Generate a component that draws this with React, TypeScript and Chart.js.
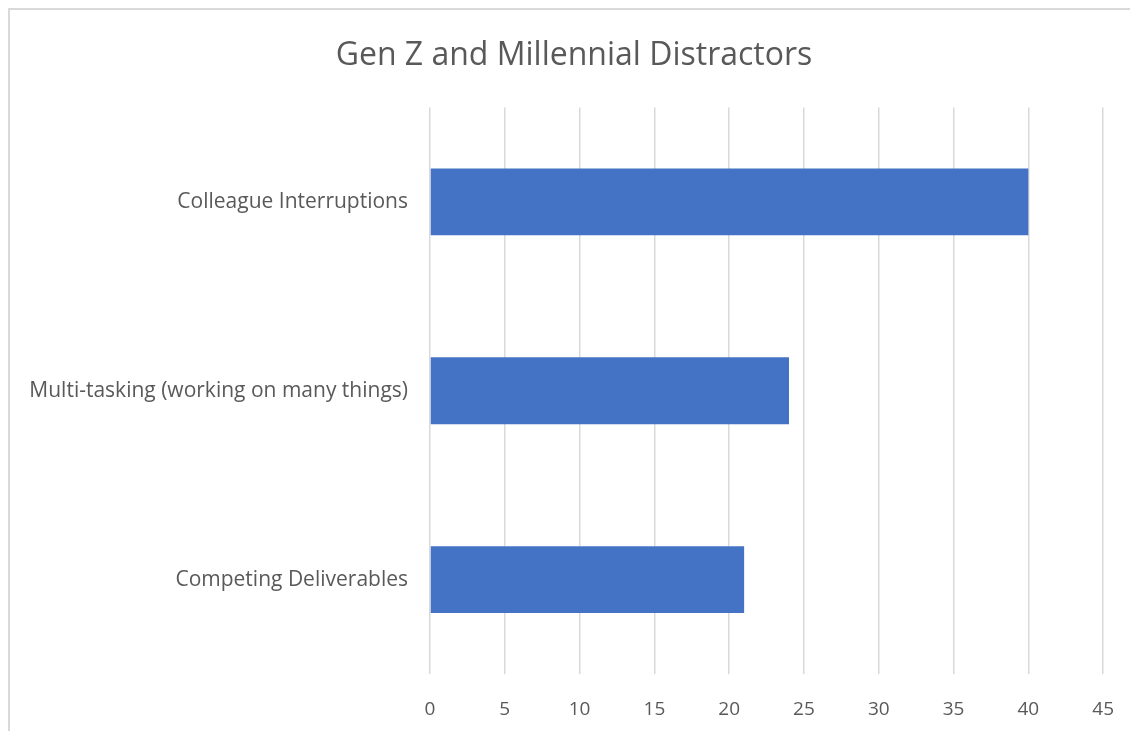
import React, { useEffect, useRef } from "react";
import { Chart, registerables } from "chart.js";

Chart.register(...registerables);

const title = "Gen Z and Millennial Distractors";
const categories = [
  "Colleague Interruptions",
  "Multi-tasking (working on many things)",
  "Competing Deliverables",
];
const values = [40, 24, 21];
const xMin = 0;
const xMax = 45;
const xStep = 5;

const FONT = "'Open Sans', 'DejaVu Sans', sans-serif";
const TEXT = "#595959";
const GRID = "#d9d9d9";
const BAR = "#4472C4";

export default function App() {
  const ref = useRef<HTMLCanvasElement | null>(null);

  useEffect(() => {
    if (!ref.current) return;
    const chart = new Chart(ref.current, {
      type: "bar",
      data: {
        labels: categories,
        datasets: [
          {
            data: values,
            backgroundColor: BAR,
            borderWidth: 0,
            barPercentage: 0.354,
            categoryPercentage: 1,
          },
        ],
      },
      options: {
        indexAxis: "y",
        animation: false,
        responsive: true,
        maintainAspectRatio: false,
        layout: { padding: { top: 27, bottom: 0, left: 0, right: 0 } },
        plugins: {
          legend: { display: false },
          tooltip: { enabled: false },
          title: {
            display: true,
            text: title,
            color: TEXT,
            font: { family: FONT, size: 32, weight: "normal" },
            padding: { top: 0, bottom: 32 },
          },
        },
        scales: {
          x: {
            type: "linear",
            min: xMin,
            max: xMax,
            ticks: {
              stepSize: xStep,
              color: TEXT,
              padding: 24,
              font: { family: FONT, size: 19 },
            },
            grid: { color: GRID, lineWidth: 1.5, drawTicks: false },
            border: { display: false },
            afterFit: (s: any) => {
              s.height = 57;
            },
          },
          y: {
            type: "category",
            ticks: {
              color: TEXT,
              padding: 22,
              font: { family: FONT, size: 21 },
            },
            grid: { display: false, drawTicks: false },
            border: { display: false },
            afterFit: (s: any) => {
              s.width = 420;
            },
          },
          y2: {
            type: "linear",
            position: "right",
            display: true,
            ticks: { display: false },
            grid: { display: false, drawTicks: false },
            border: { display: false },
            afterFit: (s: any) => {
              s.width = 33;
            },
          },
        },
      },
    });
    return () => chart.destroy();
  }, []);

  return (
    <div
      style={{
        width: 1128,
        height: 721,
        borderTop: "2px solid #d9d9d9",
        borderLeft: "2px solid #d9d9d9",
        background: "#fff",
        position: "relative",
      }}
    >
      <canvas ref={ref} />
    </div>
  );
}
